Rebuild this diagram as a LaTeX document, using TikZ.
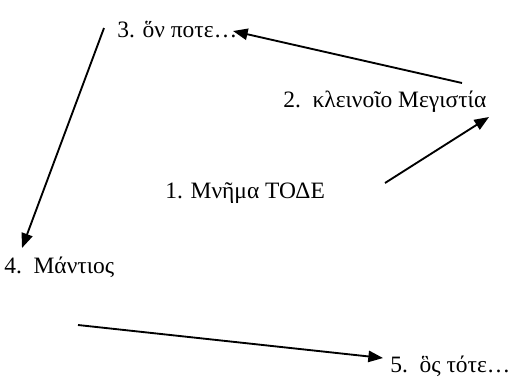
\documentclass[tikz,border=0pt]{standalone}
\usepackage{fontspec}
\setmainfont{Liberation Serif}
\usetikzlibrary{arrows.meta,calc}
\tikzset{
  lbl/.style={anchor=base west,inner sep=0pt,font=\fontsize{17.6pt}{21pt}\selectfont},
  conn/.style={line width=1.4pt,-{Triangle[length=11pt,width=8.5pt]}}
}
\begin{document}
\begin{tikzpicture}[x=0.75pt,y=-0.75pt]
\useasboundingbox (0,0) rectangle (513,383);
\node[lbl] (n3) at (117,37) {3. ὅν ποτε…};
\node[lbl] (n2) at (283,107) {2.\ \ κλεινοῖο Μεγιστία};
\node[lbl] (n1) at (165,198) {1. Μνῆμα ΤΟΔΕ};
\node[lbl] (n4) at (4,273) {4.\ \ Μάντιος};
\node[lbl] (n5) at (390,372) {5.\ \ ὃς τότε…};
\draw[conn] ($(n2.base west)+(179,-24)$) -- ($(n3.base west)+(116,-6)$);
\draw[conn] ($(n1.base west)+(220,-15)$) -- ($(n2.base west)+(206,10)$);
\draw[conn] ($(n3.base west)+(-13,-9)$) -- ($(n4.base west)+(18,-25)$);
\draw[conn] ($(n4.base west)+(74,52)$) -- ($(n5.base west)+(-7,-14)$);
\end{tikzpicture}
\end{document}
